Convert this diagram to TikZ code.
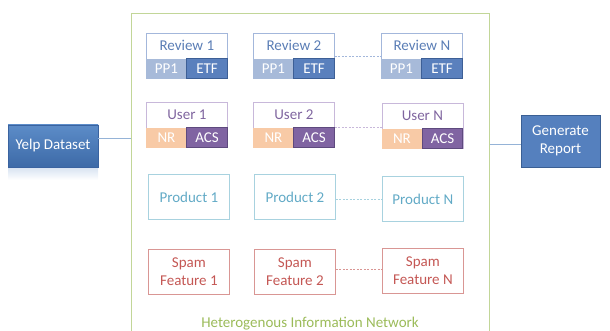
\documentclass[tikz,border=0pt]{standalone}
\usepackage{fontspec}
\setmainfont{Carlito}
\usetikzlibrary{calc}
\definecolor{revB}{HTML}{A3B7DB}
\definecolor{revT}{HTML}{5A7DB5}
\definecolor{pp1F}{HTML}{A7BAD9}
\definecolor{etfF}{HTML}{5A80BD}
\definecolor{etfB}{HTML}{3D5F96}
\definecolor{userB}{HTML}{C8B8DA}
\definecolor{userT}{HTML}{7F659F}
\definecolor{nrF}{HTML}{F8CAA6}
\definecolor{acsF}{HTML}{8064A2}
\definecolor{acsB}{HTML}{5E4A7E}
\definecolor{prodB}{HTML}{A8D2DF}
\definecolor{prodT}{HTML}{62AAC6}
\definecolor{spamB}{HTML}{D99694}
\definecolor{spamT}{HTML}{C45754}
\definecolor{frameC}{HTML}{C2D698}
\definecolor{frameT}{HTML}{9BBB59}
\definecolor{yelpTop}{HTML}{5C8CC8}
\definecolor{yelpBot}{HTML}{3D6AA7}
\definecolor{yelpB}{HTML}{3A63A0}
\definecolor{genF}{HTML}{5580BE}
\definecolor{genB}{HTML}{3A5F94}
\definecolor{linkC}{HTML}{95B3D7}
\tikzset{
  outerbox/.style={rectangle, minimum width=81pt, minimum height=45pt, inner sep=0pt, line width=0.8pt},
  cellbox/.style={rectangle, minimum width=40.5pt, minimum height=20pt, inner sep=0pt, text=white},
  dotlink/.style={line width=0.7pt, dash pattern=on 2pt off 1.5pt},
}
\newcommand{\rvbox}[4]{%
  \node[outerbox, draw=revB, anchor=north west] (#1) at (#2,#3) {};
  \node[text=revT, inner sep=0pt] (#1t) at ($(#1.north)+(0,12.5)$) {#4};
  \node[cellbox, fill=pp1F, anchor=south west] (#1a) at (#1.south west) {PP1};
  \node[cellbox, fill=etfF, draw=etfB, line width=0.9pt, anchor=south east] (#1b) at (#1.south east) {ETF};
}
\newcommand{\usbox}[4]{%
  \node[outerbox, draw=userB, anchor=north west] (#1) at (#2,#3) {};
  \node[text=userT, inner sep=0pt] (#1t) at ($(#1.north)+(0,12.5)$) {#4};
  \node[cellbox, fill=nrF, anchor=south west] (#1a) at (#1.south west) {NR};
  \node[cellbox, fill=acsF, draw=acsB, line width=0.9pt, anchor=south east] (#1b) at (#1.south east) {ACS};
}
\begin{document}
\begin{tikzpicture}[x=1pt,y=-1pt, font=\fontsize{15}{17}\selectfont]
\useasboundingbox (0,0) rectangle (610,331);
\begin{scope}
\clip (0,0) rectangle (610,331);
\node[draw=frameC, line width=1pt, minimum width=358pt, minimum height=330pt, anchor=north west, inner sep=0pt] (hin) at (131,13) {};
\end{scope}
\node[text=frameT] (hinlbl) at (310,324) {Heterogenous Information Network};

% reflection of Yelp box
\shade[top color=yelpTop!25, bottom color=white] (8,167) rectangle (98,180);
\node[rectangle, top color=yelpTop, bottom color=yelpBot, draw=yelpB, line width=0.8pt, minimum width=90pt, minimum height=42pt, text=white] (yelp) at (53,146) {Yelp Dataset};
\node[rectangle, fill=genF, draw=genB, line width=0.8pt, minimum width=79pt, minimum height=52pt, text=white, align=center, font=\fontsize{15}{18.5}\selectfont] (gen) at (560.5,141) {Generate\\Report};

\draw[linkC, line width=0.8pt] ([yshift=8pt]yelp.east) -- ([yshift=8pt]yelp.east -| hin.west);
\draw[linkC, line width=0.8pt] ([yshift=-3pt]gen.west) -- ([yshift=-3pt]gen.west -| hin.east);

% Reviews
\rvbox{r1}{146}{33}{Review 1}
\rvbox{r2}{253}{33}{Review 2}
\rvbox{rN}{381}{33}{Review N}
\draw[dotlink, draw=revB] (r2.east) -- (rN.west);

% Users
\usbox{u1}{146}{102.5}{User 1}
\usbox{u2}{253}{102.5}{User 2}
\usbox{uN}{381.5}{103.5}{User N}
\draw[dotlink, draw=userB] ([yshift=-2pt]u2.east) -- ([yshift=-2pt]u2.east -| uN.west);

% Products
\node[outerbox, draw=prodB, anchor=north west, text=prodT] (p1) at (148,174) {Product 1};
\node[outerbox, draw=prodB, anchor=north west, text=prodT] (p2) at (254,174) {Product 2};
\node[outerbox, draw=prodB, anchor=north west, text=prodT] (pN) at (382,176) {Product N};
\draw[dotlink, draw=prodB] ([yshift=-2pt]p2.east) -- ([yshift=-2pt]p2.east -| pN.west);

% Spam features
\node[outerbox, draw=spamB, anchor=north west, text=spamT, align=center, font=\fontsize{15}{18.5}\selectfont] (s1) at (148,249) {Spam\\Feature 1};
\node[outerbox, draw=spamB, anchor=north west, text=spamT, align=center, font=\fontsize{15}{18.5}\selectfont] (s2) at (254,249) {Spam\\Feature 2};
\node[outerbox, draw=spamB, anchor=north west, text=spamT, align=center, font=\fontsize{15}{18.5}\selectfont] (sN) at (382,248) {Spam\\Feature N};
\draw[dotlink, draw=spamB] ([yshift=3pt]s2.east) -- ([yshift=3pt]s2.east -| sN.west);
\end{tikzpicture}
\end{document}
